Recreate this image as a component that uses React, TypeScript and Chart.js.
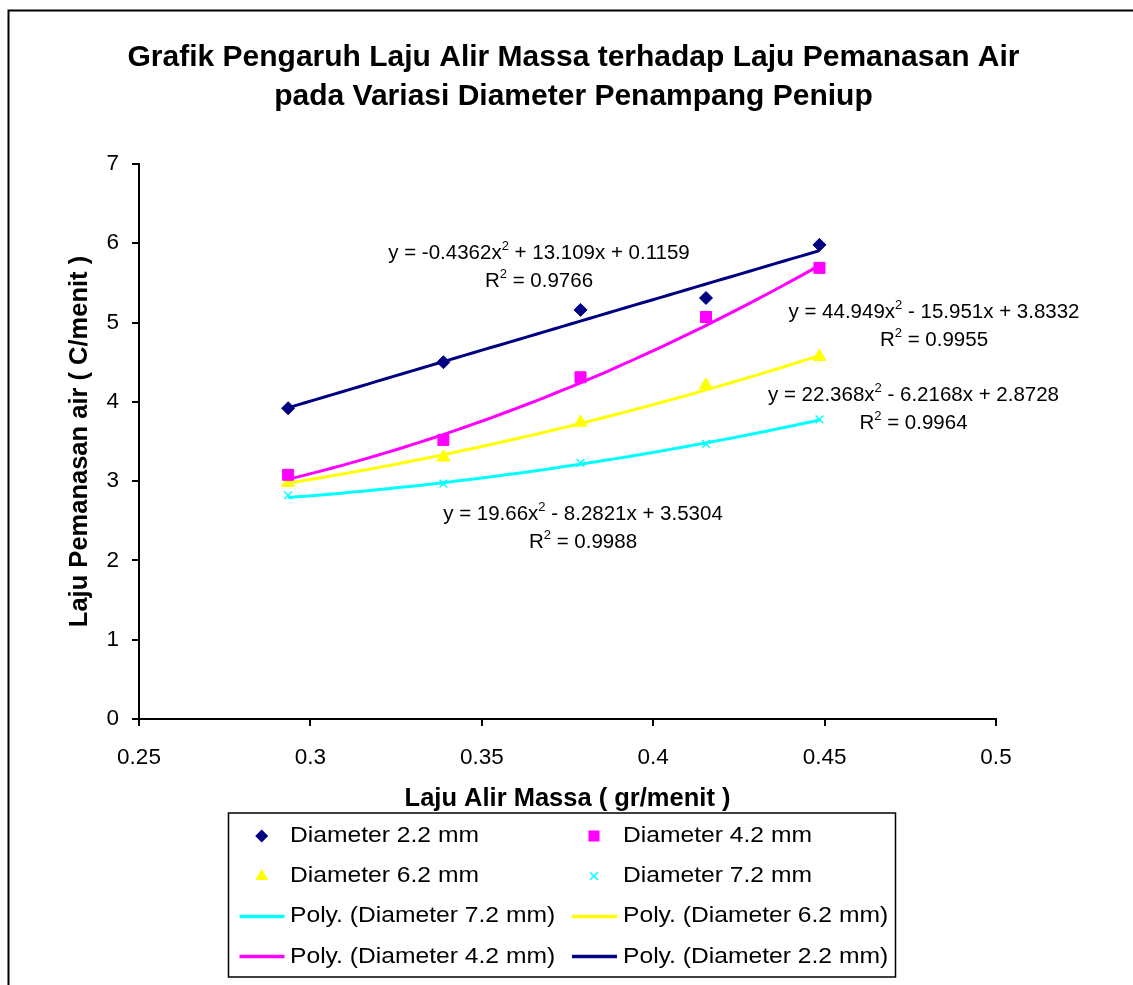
import React, { useEffect, useRef } from 'react';
import { Chart, registerables } from 'chart.js';

Chart.register(...registerables);

const FONT = "'Liberation Sans', Arial, Helvetica, sans-serif";

// ---------- text ----------
const titleLines = [
  'Grafik Pengaruh Laju Alir Massa terhadap Laju Pemanasan Air',
  'pada Variasi Diameter Penampang Peniup',
];
const xAxisTitle = 'Laju Alir Massa ( gr/menit )';
const yAxisTitle = 'Laju Pemanasan air ( C/menit )';

// ---------- data ----------
const massFlow = [0.2935, 0.3388, 0.3788, 0.4154, 0.4485];
const heat22 = [3.92, 4.5, 5.16, 5.31, 5.98];
const heat42 = [3.08, 3.52, 4.31, 5.07, 5.69];
const heat62 = [2.98, 3.3, 3.74, 4.21, 4.57];
const heat72 = [2.82, 2.97, 3.23, 3.47, 3.78];

const seriesNames = ['Diameter 2.2 mm', 'Diameter 4.2 mm', 'Diameter 6.2 mm', 'Diameter 7.2 mm'];

// polynomial trendline coefficients (a x^2 + b x + c), as printed on the chart
const coef22 = [-0.4362, 13.109, 0.1159];
const coef42 = [44.949, -15.951, 3.8332];
const coef62 = [22.368, -6.2168, 2.8728];
const coef72 = [19.66, -8.2821, 3.5304];
const rSquared = [0.9766, 0.9955, 0.9964, 0.9988];

const xTicks = [0.25, 0.3, 0.35, 0.4, 0.45, 0.5];
const yTicks = [0, 1, 2, 3, 4, 5, 6, 7];

// ---------- styles ----------
const colors = ['#000080', '#FF00FF', '#FFFF00', '#00FFFF'];
const pointStyles = ['rectRot', 'rect', 'triangle', 'crossRot'];
const pointRadii = [6.5, 7.8, 7.5, 5.5];

// legend order (dataset indices), row-major in a 2-column grid
const legendOrder = [0, 1, 2, 3, 7, 6, 5, 4];

// equation label placement (pixels: centre x, first line y)
const eqAnchors = [
  { cx: 539, y: 253 },
  { cx: 934, y: 312 },
  { cx: 913.5, y: 395 },
  { cx: 583, y: 514 },
];

const heats = [heat22, heat42, heat62, heat72];
const coefs = [coef22, coef42, coef62, coef72];

function trendPoints(coef: number[]) {
  const lo = Math.min(...massFlow);
  const hi = Math.max(...massFlow);
  const n = 60;
  const pts: { x: number; y: number }[] = [];
  for (let i = 0; i <= n; i++) {
    const x = lo + ((hi - lo) * i) / n;
    pts.push({ x, y: coef[0] * x * x + coef[1] * x + coef[2] });
  }
  return pts;
}

function buildDatasets() {
  const ds: any[] = [];
  for (let i = 0; i < 4; i++) {
    ds.push({
      label: seriesNames[i],
      data: massFlow.map((x, k) => ({ x, y: heats[i][k] })),
      showLine: false,
      pointStyle: pointStyles[i],
      pointRadius: pointRadii[i],
      pointBackgroundColor: colors[i],
      pointBorderColor: colors[i],
      pointBorderWidth: i === 3 ? 1.5 : 1,
      order: 0,
    });
  }
  for (let i = 0; i < 4; i++) {
    ds.push({
      label: 'Poly. (' + seriesNames[i] + ')',
      data: trendPoints(coefs[i]),
      showLine: true,
      borderColor: colors[i],
      borderWidth: 3,
      pointRadius: 0,
      tension: 0,
      order: 1,
    });
  }
  return ds;
}

function signed(v: number) {
  return (v < 0 ? '- ' : '+ ') + String(Math.abs(v));
}

function drawParts(c: CanvasRenderingContext2D, parts: { t: string; sup?: boolean }[], cx: number, y: number) {
  const mainFont = `20.5px ${FONT}`;
  const supFont = `13px ${FONT}`;
  let total = 0;
  const widths = parts.map((p) => {
    c.font = p.sup ? supFont : mainFont;
    const w = c.measureText(p.t).width;
    total += w;
    return w;
  });
  let x = cx - total / 2;
  c.textAlign = 'left';
  c.textBaseline = 'middle';
  parts.forEach((p, i) => {
    c.font = p.sup ? supFont : mainFont;
    c.fillText(p.t, x, p.sup ? y - 7 : y);
    x += widths[i];
  });
}

function drawMarker(c: CanvasRenderingContext2D, style: string, x: number, y: number, r: number, color: string) {
  c.save();
  c.fillStyle = color;
  c.strokeStyle = color;
  c.beginPath();
  if (style === 'rectRot') {
    c.moveTo(x, y - r);
    c.lineTo(x + r, y);
    c.lineTo(x, y + r);
    c.lineTo(x - r, y);
    c.closePath();
    c.fill();
  } else if (style === 'rect') {
    const s = r * Math.SQRT1_2;
    c.rect(x - s, y - s, 2 * s, 2 * s);
    c.fill();
  } else if (style === 'triangle') {
    c.moveTo(x, y - r);
    c.lineTo(x + r * 0.866, y + r / 2);
    c.lineTo(x - r * 0.866, y + r / 2);
    c.closePath();
    c.fill();
  } else {
    const s = r * Math.SQRT1_2;
    c.lineWidth = 1.5;
    c.moveTo(x - s, y - s);
    c.lineTo(x + s, y + s);
    c.moveTo(x + s, y - s);
    c.lineTo(x - s, y + s);
    c.stroke();
  }
  c.restore();
}

const decor = {
  id: 'decor',
  beforeDraw(chart: any) {
    const c: CanvasRenderingContext2D = chart.ctx;
    c.save();
    c.fillStyle = '#fff';
    c.fillRect(0, 0, chart.width, chart.height);
    c.strokeStyle = '#000';
    c.lineWidth = 2;
    c.beginPath();
    c.moveTo(8.5, chart.height);
    c.lineTo(8.5, 10.5);
    c.lineTo(chart.width, 10.5);
    c.stroke();
    c.restore();
  },
  afterDraw(chart: any) {
    const c: CanvasRenderingContext2D = chart.ctx;
    c.save();
    c.fillStyle = '#000';
    // title
    c.font = `bold 30px ${FONT}`;
    c.textAlign = 'center';
    c.textBaseline = 'middle';
    c.fillText(titleLines[0], 573.5, 58);
    c.fillText(titleLines[1], 573.5, 97);

    // trendline equations
    for (let i = 0; i < 4; i++) {
      const [a, b, cc] = coefs[i];
      const { cx, y } = eqAnchors[i];
      drawParts(
        c,
        [
          { t: 'y = ' + String(a) + 'x' },
          { t: '2', sup: true },
          { t: ' ' + signed(b) + 'x ' + signed(cc) },
        ],
        cx,
        y,
      );
      drawParts(c, [{ t: 'R' }, { t: '2', sup: true }, { t: ' = ' + String(rSquared[i]) }], cx, y + 28.5);
    }

    // legend
    const box = { x: 228.5, y: 813, w: 667, h: 164 };
    c.lineWidth = 1.5;
    c.strokeStyle = '#000';
    c.strokeRect(box.x, box.y, box.w, box.h);
    const markX = [261.7, 594];
    const lineX = [239.5, 572];
    const textX = [290, 623];
    const rowY0 = 836;
    const rowStep = 40.2;
    const datasets = chart.data.datasets;
    legendOrder.forEach((di, k) => {
      const col = k % 2;
      const row = Math.floor(k / 2);
      const y = rowY0 + row * rowStep;
      const ds = datasets[di];
      if (ds.showLine) {
        c.save();
        c.strokeStyle = ds.borderColor;
        c.lineWidth = 3.5;
        c.beginPath();
        c.moveTo(lineX[col], y);
        c.lineTo(lineX[col] + 45, y);
        c.stroke();
        c.restore();
      } else {
        drawMarker(c, ds.pointStyle, markX[col], y, ds.pointRadius, ds.pointBackgroundColor);
      }
      c.save();
      c.fillStyle = '#000';
      c.font = `22px ${FONT}`;
      c.textAlign = 'left';
      c.textBaseline = 'middle';
      c.translate(textX[col], y);
      c.scale(1.12, 1);
      c.fillText(ds.label, 0, 0);
      c.restore();
    });
    c.restore();
  },
};

export default function App() {
  const ref = useRef<HTMLCanvasElement>(null);
  useEffect(() => {
    const canvas = ref.current;
    if (!canvas) return;
    const axisGrid = {
      display: true,
      drawOnChartArea: false,
      drawTicks: true,
      tickLength: 7,
      color: '#000',
      lineWidth: 2,
    };
    const chart = new Chart(canvas, {
      type: 'scatter',
      data: { datasets: buildDatasets() },
      options: {
        responsive: false,
        animation: false,
        devicePixelRatio: 1,
        events: [],
        layout: { padding: { left: 0, top: 164, right: 137, bottom: 166 } },
        plugins: {
          legend: { display: false },
          title: { display: false },
          tooltip: { enabled: false },
        },
        scales: {
          x: {
            type: 'linear',
            min: 0.25,
            max: 0.5,
            afterBuildTicks: (s: any) => {
              s.ticks = xTicks.map((v) => ({ value: v }));
            },
            afterFit: (s: any) => {
              s.height = 100;
            },
            ticks: {
              color: '#000',
              padding: 18,
              font: { family: FONT, size: 22.5 },
              callback: (v: any) => String(v),
            },
            grid: axisGrid,
            border: { display: true, color: '#000', width: 2 },
            title: {
              display: true,
              text: xAxisTitle,
              color: '#000',
              font: { family: FONT, size: 25.5, weight: 'bold' },
              padding: { top: 0, bottom: 5 },
            },
          },
          y: {
            type: 'linear',
            min: 0,
            max: 7,
            afterBuildTicks: (s: any) => {
              s.ticks = yTicks.map((v) => ({ value: v }));
            },
            afterFit: (s: any) => {
              s.width = 139;
            },
            ticks: {
              color: '#000',
              padding: 13,
              font: { family: FONT, size: 22.5 },
              callback: (v: any) => String(v),
            },
            grid: axisGrid,
            border: { display: true, color: '#000', width: 2 },
            title: {
              display: true,
              text: yAxisTitle,
              color: '#000',
              font: { family: FONT, size: 25.5, weight: 'bold' },
              padding: { top: 65, bottom: 0 },
            },
          },
        },
      } as any,
      plugins: [decor],
    });
    return () => chart.destroy();
  }, []);
  return (
    <div style={{ position: 'absolute', left: 0, top: 0, width: 1133, height: 985, overflow: 'hidden', background: '#fff' }}>
      <canvas ref={ref} width={1133} height={985} style={{ display: 'block', width: 1133, height: 985 }} />
    </div>
  );
}
